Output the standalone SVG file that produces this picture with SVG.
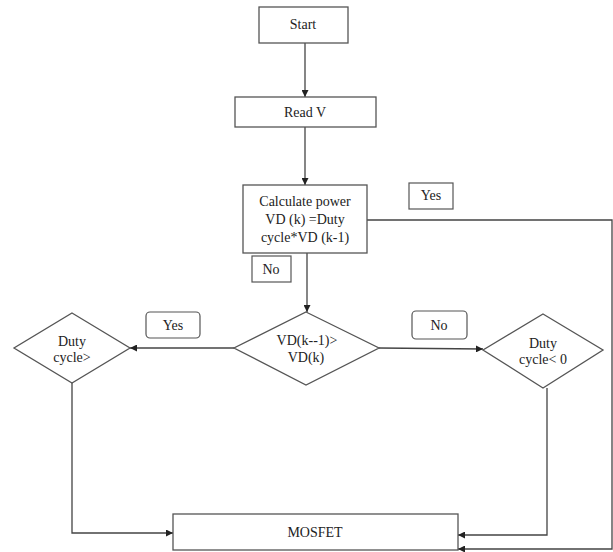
<svg xmlns="http://www.w3.org/2000/svg" width="613" height="552" viewBox="0 0 613 552">
<style>
.box{fill:#fff;stroke:#555;stroke-width:1.3}
.lbl{fill:#fff;stroke:#555;stroke-width:1.2}
.t{font-family:"Liberation Serif","Times New Roman",serif;font-size:14px;fill:#222;text-anchor:middle}
.c{fill:none;stroke:#444;stroke-width:1.3}
</style>
<defs>
<marker id="ah" viewBox="0 0 10 10" refX="10" refY="5" markerWidth="8" markerHeight="7" markerUnits="userSpaceOnUse" orient="auto">
<path d="M0,0 L10,5 L0,10 z" fill="#222"/>
</marker>
</defs>
<rect width="613" height="552" fill="#fff"/>
<g id="connectors">
<line class="c" x1="305" y1="43" x2="305" y2="97" marker-end="url(#ah)"/>
<line class="c" x1="305" y1="127" x2="305" y2="185" marker-end="url(#ah)"/>
<line class="c" x1="307" y1="253" x2="307" y2="312" marker-end="url(#ah)"/>
<polyline class="c" points="367,220 612,220 612,549 458,549" marker-end="url(#ah)"/>
<line class="c" x1="234" y1="348" x2="130" y2="348" marker-end="url(#ah)"/>
<line class="c" x1="379" y1="348" x2="483" y2="349" marker-end="url(#ah)"/>
<polyline class="c" points="72,383 72,533 173,533" marker-end="url(#ah)"/>
<polyline class="c" points="547,388 547,535 458,535" marker-end="url(#ah)"/>
</g>
<g id="start">
<rect class="box" x="259" y="7" width="89" height="36"/>
<text class="t" x="303" y="29">Start</text>
</g>
<g id="readv">
<rect class="box" x="235" y="97" width="141" height="30"/>
<text class="t" x="305" y="117">Read V</text>
</g>
<g id="calc">
<rect class="box" x="243" y="185" width="124" height="68"/>
<text class="t" x="305" y="206">Calculate power</text>
<text class="t" x="305" y="224">VD (k) =Duty</text>
<text class="t" x="305" y="242">cycle*VD (k-1)</text>
</g>
<g id="yes-top">
<rect class="lbl" x="409" y="183" width="44" height="26"/>
<text class="t" x="431" y="200">Yes</text>
</g>
<g id="no-top">
<rect class="lbl" x="252" y="256" width="39" height="26"/>
<text class="t" x="271" y="274">No</text>
</g>
<g id="decision">
<polygon class="box" points="306,312 379,348 306,385 234,348"/>
<text class="t" x="307" y="345">VD(k--1)&gt;</text>
<text class="t" x="306" y="362">VD(k)</text>
</g>
<g id="duty-gt">
<polygon class="box" points="72,313 130,348 72,383 14,348"/>
<text class="t" x="72" y="346">Duty</text>
<text class="t" x="72" y="362">cycle&gt;</text>
</g>
<g id="yes-left">
<rect class="lbl" x="146" y="312" width="54" height="26" rx="4"/>
<text class="t" x="173" y="330">Yes</text>
</g>
<g id="no-right">
<rect class="lbl" x="412" y="311" width="55" height="28" rx="4"/>
<text class="t" x="439" y="330">No</text>
</g>
<g id="duty-lt">
<polygon class="box" points="543,314 603,350 543,388 483,350"/>
<text class="t" x="543" y="348">Duty</text>
<text class="t" x="543" y="364">cycle&lt; 0</text>
</g>
<g id="mosfet">
<rect class="box" x="173" y="514" width="285" height="36"/>
<text class="t" x="315" y="537">MOSFET</text>
</g>
</svg>
